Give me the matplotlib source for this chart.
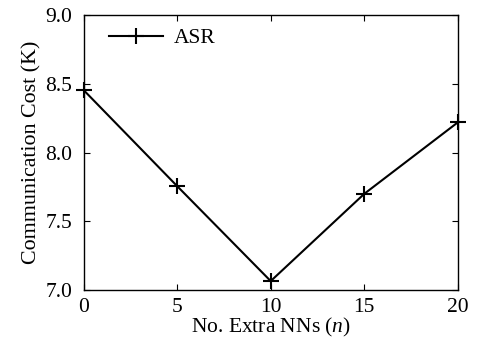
import matplotlib
matplotlib.use("Agg")
import matplotlib.pyplot as plt

# values
extra_nns = [0, 5, 10, 15, 20]
comm_cost = [8.455, 7.756, 7.065, 7.70, 8.22]

plt.rcParams['font.family'] = ['Liberation Serif', 'DejaVu Serif']
plt.rcParams['mathtext.fontset'] = 'custom'
plt.rcParams['mathtext.it'] = 'Liberation Serif:italic'

fig = plt.figure(figsize=(4.8, 3.42), dpi=100)
ax = fig.add_axes([0.174, 0.152, 0.780, 0.804])

ax.plot(extra_nns, comm_cost, color='black', linewidth=1.5, marker='+',
        markersize=11, markeredgewidth=1.5, label='ASR', clip_on=False)

ax.set_xlim(0, 20)
ax.set_ylim(7.0, 9.0)
ax.set_xticks([0, 5, 10, 15, 20])
ax.set_yticks([7.0, 7.5, 8.0, 8.5, 9.0])
ax.set_yticklabels(['7.0', '7.5', '8.0', '8.5', '9.0'])
ax.tick_params(direction='in', top=True, right=True, length=4, labelsize=15.5)
ax.tick_params(axis='x', pad=6)
ax.tick_params(axis='y', pad=8)
for s in ax.spines.values():
    s.set_linewidth(1.0)

ax.set_xlabel('No. Extra NNs ($n$)', fontsize=15.5, labelpad=-1)
ax.set_ylabel('Communication Cost (K)', fontsize=15.8, labelpad=3)

ax.legend(loc='upper left', bbox_to_anchor=(0.016, 1.022), frameon=False,
          fontsize=15.5, handlelength=2.5, handletextpad=0.5)

fig.savefig('out.png', dpi=100)
